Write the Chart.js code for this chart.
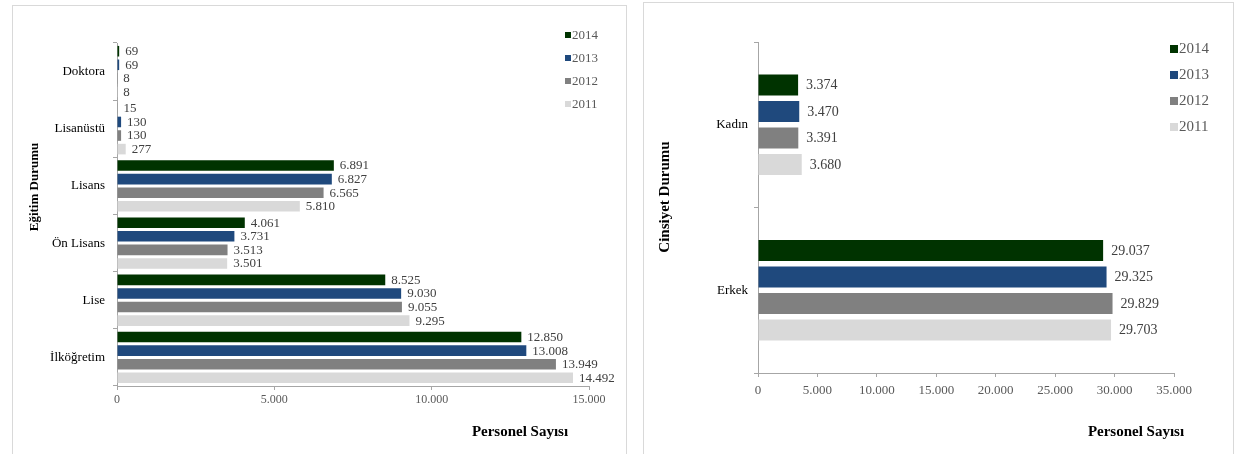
<!DOCTYPE html>
<html>
<head>
<meta charset="utf-8">
<script src="https://cdn.jsdelivr.net/npm/chart.js@4.4.1/dist/chart.umd.min.js"></script>
<style>
  html, body { margin: 0; padding: 0; background: #fff; }
  body { width: 1235px; height: 454px; position: relative; overflow: hidden; }
  .panel { position: absolute; border: 1px solid #d9d9d9; box-sizing: border-box; }
  canvas { position: absolute; }
</style>
</head>
<body>
<div class="panel" style="left:12px; top:5px; width:615px; height:470px;"></div>
<div class="panel" style="left:643px; top:2px; width:591px; height:470px;"></div>
<canvas id="c1" style="left:0; top:0;" width="628" height="454"></canvas>
<canvas id="c2" style="left:628px; top:0;" width="607" height="454"></canvas>
<script>
// ---- Data ----
const years = ['2014', '2013', '2012', '2011'];
const yearColors = ['#003300', '#1f497d', '#808080', '#d9d9d9'];

const eduCategories = ['Doktora', 'Lisanüstü', 'Lisans', 'Ön Lisans', 'Lise', 'İlköğretim'];
const edu2014 = [69, 15, 6891, 4061, 8525, 12850];
const edu2013 = [69, 130, 6827, 3731, 9030, 13008];
const edu2012 = [8, 130, 6565, 3513, 9055, 13949];
const edu2011 = [8, 277, 5810, 3501, 9295, 14492];
const eduTicks = [0, 5000, 10000, 15000];

const genderCategories = ['Kadın', 'Erkek'];
const gender2014 = [3374, 29037];
const gender2013 = [3470, 29325];
const gender2012 = [3391, 29829];
const gender2011 = [3680, 29703];
const genderTicks = [0, 5000, 10000, 15000, 20000, 25000, 30000, 35000];

// ---- Helpers ----
const SERIF = "'Liberation Serif', 'Times New Roman', serif";
Chart.defaults.font.family = SERIF;
const fmt = v => String(v).replace(/\B(?=(\d{3})+(?!\d))/g, '.');

function makeDatasets(seriesList, barPct, catPct) {
  return seriesList.map((data, i) => ({
    label: years[i],
    data: data,
    backgroundColor: yearColors[i],
    borderWidth: 0,
    barPercentage: barPct,
    categoryPercentage: catPct
  }));
}

function overlayPlugin(cfg) {
  return {
    id: 'overlay',
    afterDatasetsDraw(chart) {
      const ctx = chart.ctx;
      ctx.save();
      ctx.font = cfg.labelFont + 'px ' + SERIF;
      ctx.fillStyle = '#404040';
      ctx.textAlign = 'left';
      ctx.textBaseline = 'middle';
      chart.data.datasets.forEach((ds, di) => {
        const meta = chart.getDatasetMeta(di);
        meta.data.forEach((bar, i) => {
          ctx.fillText(fmt(ds.data[i]), bar.x + cfg.labelOffset, bar.y + 0.5);
        });
      });
      ctx.font = cfg.legendFont + 'px ' + SERIF;
      chart.data.datasets.forEach((ds, di) => {
        const y = cfg.legendY[di];
        ctx.fillStyle = ds.backgroundColor;
        ctx.fillRect(cfg.legendX, y - cfg.legendBox / 2, cfg.legendBox, cfg.legendBox);
        ctx.fillStyle = '#595959';
        ctx.fillText(ds.label, cfg.legendX + cfg.legendBox + 1, y + 0.5);
      });
      ctx.fillStyle = '#000';
      ctx.textAlign = 'center';
      ctx.font = 'bold ' + cfg.xTitleFont + 'px ' + SERIF;
      ctx.fillText('Personel Sayısı', cfg.xTitleX, cfg.xTitleY);
      ctx.save();
      ctx.translate(cfg.yTitleX, cfg.yTitleY);
      ctx.rotate(-Math.PI / 2);
      ctx.font = 'bold ' + cfg.yTitleFont + 'px ' + SERIF;
      ctx.fillText(cfg.yTitle, 0, 0);
      ctx.restore();
      ctx.restore();
    }
  };
}

function makeChart(id, o) {
  return new Chart(document.getElementById(id), {
    type: 'bar',
    data: { labels: o.categories, datasets: o.datasets },
    options: {
      indexAxis: 'y',
      responsive: false,
      animation: false,
      events: [],
      layout: { padding: { left: 0, top: o.top, right: o.right, bottom: 0 } },
      plugins: { legend: { display: false }, tooltip: { enabled: false } },
      scales: {
        x: {
          min: 0, max: o.ticks[o.ticks.length - 1],
          afterBuildTicks: s => { s.ticks = o.ticks.map(v => ({ value: v })); },
          afterFit: s => { s.height = o.xHeight; },
          grid: { drawOnChartArea: false, tickLength: 4, color: '#a6a6a6' },
          border: { color: '#a6a6a6' },
          ticks: {
            font: { family: SERIF, size: o.xTickFont },
            color: '#595959',
            padding: o.xTickPad,
            maxRotation: 0,
            callback: v => fmt(v)
          }
        },
        y: {
          afterFit: s => { s.width = o.yWidth; },
          grid: { drawOnChartArea: false, tickLength: 4, color: '#a6a6a6', offset: true },
          border: { color: '#a6a6a6' },
          ticks: {
            font: { family: SERIF, size: o.yTickFont },
            color: '#000',
            padding: o.yTickPad
          }
        }
      }
    },
    plugins: [overlayPlugin(o.overlay)]
  });
}

makeChart('c1', {
  categories: eduCategories,
  datasets: makeDatasets([edu2014, edu2013, edu2012, edu2011], 0.78, 0.95),
  ticks: eduTicks,
  top: 43, right: 39, xHeight: 68, yWidth: 117,
  xTickFont: 12, xTickPad: 3, yTickFont: 13, yTickPad: 8,
  overlay: {
    labelFont: 13, labelOffset: 6,
    legendFont: 13, legendBox: 6, legendX: 565, legendY: [35, 58, 81, 104],
    xTitleFont: 15, xTitleX: 520, xTitleY: 432,
    yTitle: 'Eğitim Durumu', yTitleFont: 13, yTitleX: 35, yTitleY: 187
  }
});

makeChart('c2', {
  categories: genderCategories,
  datasets: makeDatasets([gender2014, gender2013, gender2012, gender2011], 0.8, 0.64),
  ticks: genderTicks,
  top: 42, right: 61, xHeight: 81, yWidth: 130,
  xTickFont: 13, xTickPad: 6, yTickFont: 13, yTickPad: 6,
  overlay: {
    labelFont: 14, labelOffset: 8,
    legendFont: 15, legendBox: 8, legendX: 542, legendY: [49, 75, 101, 127],
    xTitleFont: 15, xTitleX: 508, xTitleY: 432,
    yTitle: 'Cinsiyet Durumu', yTitleFont: 15, yTitleX: 37, yTitleY: 197
  }
});
</script>
</body>
</html>
